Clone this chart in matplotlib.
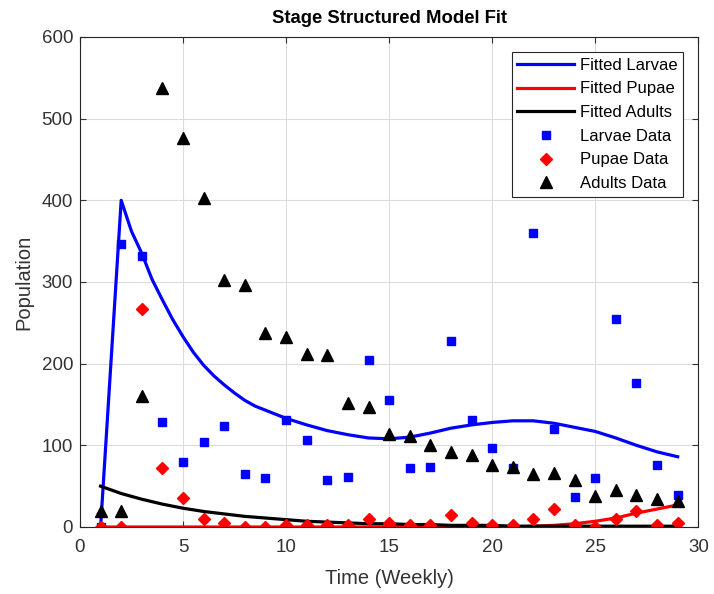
import matplotlib
matplotlib.use('Agg')
import matplotlib.pyplot as plt
import numpy as np

plt.rcParams['font.family'] = ['Liberation Sans', 'DejaVu Sans']

# observed data (weeks 1..29)
weeks = np.arange(1, 30)
larvae_data = [0, 346, 332, 128, 80, 104, 124, 65, 60, 131, 106, 57, 61, 204, 155,
               72, 74, 228, 131, 97, 72, 360, 120, 37, 60, 255, 176, 76, 39]
pupae_data = [0, 0, 267, 72, 36, 10, 5, 0, 0, 3, 3, 2, 2, 10, 5,
              3, 2, 15, 5, 3, 2, 10, 22, 2, 0, 10, 20, 3, 5]
adults_data = [20, 20, 160, 538, 476, 403, 303, 296, 238, 233, 212, 210, 152, 147, 114,
               111, 101, 92, 88, 76, 73, 65, 66, 58, 38, 45, 39, 34, 32]

# fitted model curves (larvae read more densely where it bends)
larvae_fit_t = [1, 2, 2.5, 3, 3.5, 4, 4.5, 5, 5.5, 6, 6.5, 7, 7.5, 8, 8.5, 9, 9.5, 10,
                11, 12, 13, 14, 15, 16, 17, 18, 19, 20, 21, 22, 23, 24, 25, 26, 27, 28, 29]
larvae_fit = [0, 400, 362, 335, 303, 278, 254, 233, 214, 198, 185, 174, 164, 155, 148, 143, 138, 133,
              125, 118, 113, 109, 108, 110, 115, 121, 125, 128, 130, 130, 127, 122, 117, 109, 100, 92, 86]
pupae_fit = [0, 0, 0, 0, 0, 0, 0, 0, 0, 0, 0, 0, 0, 0, 0,
             0, 0, 0, 0, 0, 0, 1, 2, 4, 7, 11, 17, 22, 27]
adults_fit = [50, 41, 34, 28, 23, 19, 16, 13, 11, 9, 7, 6, 5, 4, 4,
              3, 3, 2, 2, 2, 1, 1, 1, 1, 1, 1, 1, 1, 1]

fig = plt.figure(figsize=(7.14, 5.94), dpi=100)
ax = fig.add_axes([0.112, 0.1128, 0.866, 0.825])

ax.plot(larvae_fit_t, larvae_fit, color='#0000ff', lw=2.3, label='Fitted Larvae')
ax.plot(weeks, pupae_fit, color='#ff0000', lw=2.3, label='Fitted Pupae')
ax.plot(weeks, adults_fit, color='black', lw=2.3, label='Fitted Adults')
ax.plot(weeks, larvae_data, 's', color='#0000ff', ms=6, label='Larvae Data')
ax.plot(weeks, pupae_data, 'D', color='#ff0000', ms=6.5, label='Pupae Data')
ax.plot(weeks, adults_data, '^', color='black', ms=8.5, label='Adults Data')

ax.set_xlim(0, 30)
ax.set_ylim(0, 600)
ax.set_xticks(np.arange(0, 31, 5))
ax.set_yticks(np.arange(0, 601, 100))
ax.grid(True, color='#dcdcdc', lw=0.8)
ax.set_axisbelow(True)
ax.tick_params(direction='in', top=True, right=True, labelsize=13.5, colors='#333333', length=4)
ax.tick_params(axis='x', pad=9)
ax.tick_params(axis='y', pad=5)
for s in ax.spines.values():
    s.set_color('#262626')
    s.set_linewidth(0.8)

ax.set_title('Stage Structured Model Fit', fontsize=13.3, fontweight='bold', pad=10)
ax.set_xlabel('Time (Weekly)', fontsize=14.5, color='#333333', labelpad=9)
ax.set_ylabel('Population', fontsize=14.5, color='#333333', labelpad=6)

leg = ax.legend(loc='upper right', fontsize=12, fancybox=False, framealpha=1,
                edgecolor='#262626', handlelength=3.4, borderpad=0.35, labelspacing=0.52,
                handletextpad=0.35, borderaxespad=0.9)
leg.get_frame().set_linewidth(0.8)

fig.savefig('out.png', dpi=100)
